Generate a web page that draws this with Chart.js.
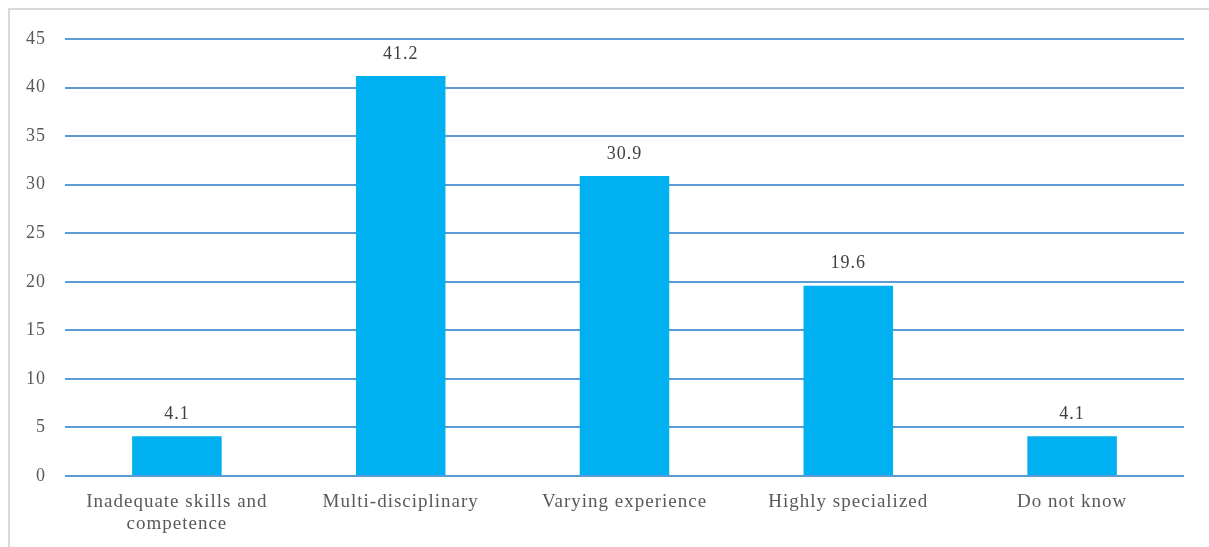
<!DOCTYPE html>
<html>
<head>
<meta charset="utf-8">
<script src="https://cdn.jsdelivr.net/npm/chart.js@4/dist/chart.umd.min.js"></script>
<style>
  html, body { margin: 0; padding: 0; background: #fff; }
  #wrap { position: relative; width: 1209px; height: 547px; overflow: hidden; }
  #frame { position: absolute; left: 8px; top: 8px; width: 1220px; height: 560px;
           border-left: 2px solid #d9d9d9; border-top: 2px solid #d9d9d9; }
  canvas { position: absolute; left: 0; top: 0; }
</style>
</head>
<body>
<div id="wrap">
  <div id="frame"></div>
  <canvas id="chart" width="1209" height="547"></canvas>
</div>
<script>
const categories = [
  ["Inadequate skills and", "competence"],
  "Multi-disciplinary",
  "Varying experience",
  "Highly specialized",
  "Do not know"
];
const values = [4.1, 41.2, 30.9, 19.6, 4.1];
const yTicks = [0, 5, 10, 15, 20, 25, 30, 35, 40, 45];

const textColor = "#595959";
const serif = "'Liberation Serif', 'Times New Roman', serif";

// the text is set a little loose, so widen the letter spacing on the canvas
const spacing = {
  id: "spacing",
  beforeLayout(chart) { chart.ctx.letterSpacing = "1px"; },
  beforeDraw(chart) { chart.ctx.letterSpacing = "1px"; }
};

// value labels above each bar
const barLabels = {
  id: "barLabels",
  afterDatasetsDraw(chart) {
    const ctx = chart.ctx;
    const meta = chart.getDatasetMeta(0);
    ctx.save();
    ctx.font = "18px " + serif;
    ctx.fillStyle = "#404040";
    ctx.textAlign = "center";
    ctx.textBaseline = "middle";
    meta.data.forEach((bar, i) => {
      ctx.fillText(values[i].toFixed(1), bar.x, bar.y - 22);
    });
    ctx.restore();
  }
};

new Chart(document.getElementById("chart"), {
  type: "bar",
  data: {
    labels: categories,
    datasets: [{
      data: values,
      backgroundColor: "#00B0F0",
      categoryPercentage: 1,
      barPercentage: 0.4
    }]
  },
  options: {
    responsive: false,
    animation: false,
    layout: { padding: { top: 39, right: 25, left: 0, bottom: 0 } },
    plugins: {
      legend: { display: false },
      tooltip: { enabled: false }
    },
    scales: {
      x: {
        grid: { display: false },
        border: { display: false },
        ticks: {
          color: textColor,
          font: { family: serif, size: 19, lineHeight: 1.15 },
          padding: 7,
          maxRotation: 0
        },
        afterFit(scale) { scale.height = 71; }
      },
      y: {
        min: 0,
        max: 45,
        afterBuildTicks(scale) { scale.ticks = yTicks.map(v => ({ value: v })); },
        grid: { color: "#5B9BD5", lineWidth: 2, drawTicks: false },
        border: { display: false },
        ticks: {
          color: textColor,
          font: { family: serif, size: 18 },
          padding: 19
        },
        afterFit(scale) { scale.width = 65; }
      }
    }
  },
  plugins: [spacing, barLabels]
});
</script>
</body>
</html>
